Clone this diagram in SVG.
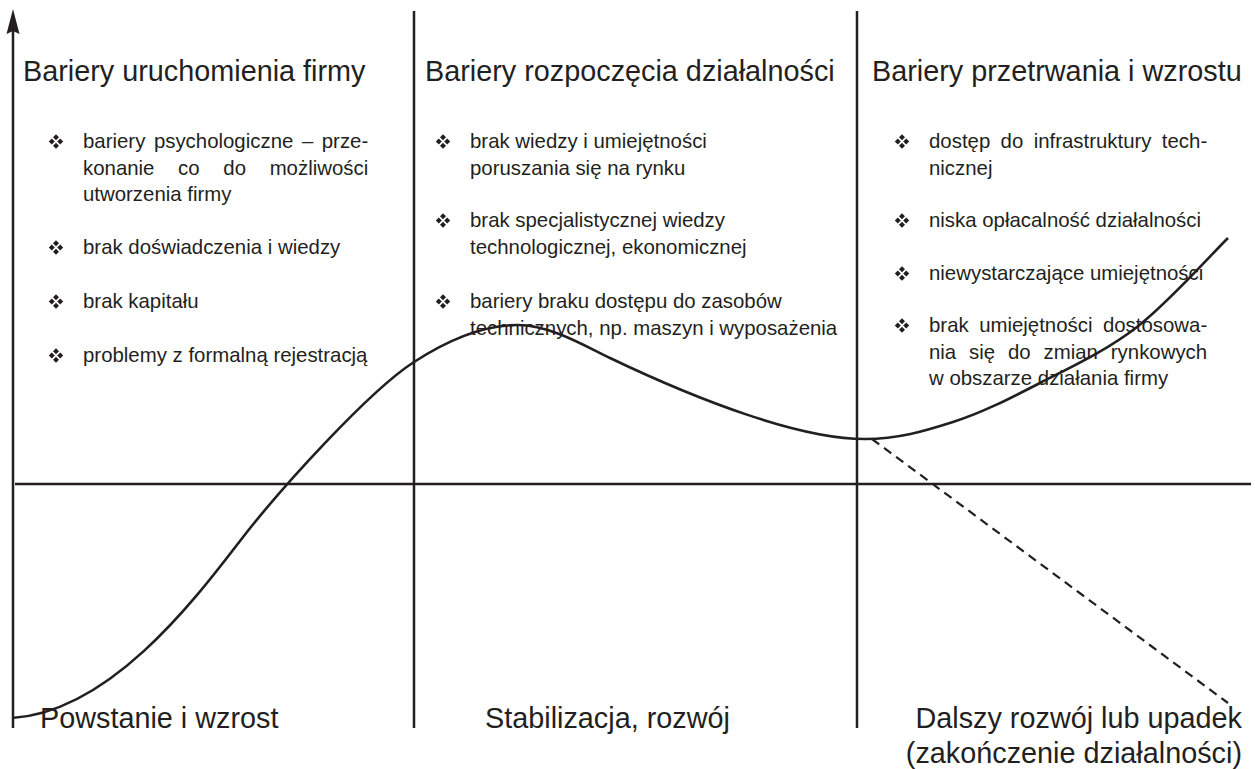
<svg xmlns="http://www.w3.org/2000/svg" width="1255" height="769" viewBox="0 0 1255 769">
<style>
.ln{stroke:#231f20;stroke-width:2.5;fill:none}
.cv{stroke:#231f20;stroke-width:2.6;fill:none}
.ds{stroke:#231f20;stroke-width:2.2;fill:none;stroke-dasharray:9 6}
.h{font-family:"Liberation Sans",Arial,sans-serif;font-size:28.8px;fill:#231f20}
.t{font-family:"Liberation Sans",Arial,sans-serif;font-size:20.4px;fill:#231f20}
</style>
<defs>
<path id="bul" fill="#231f20" d="M0,-7.2 L3,-4.2 L0,-1.2 L-3,-4.2Z M0,1.2 L3,4.2 L0,7.2 L-3,4.2Z M-7.2,0 L-4.2,-3 L-1.2,0 L-4.2,3Z M1.2,0 L4.2,-3 L7.2,0 L4.2,3Z"/>
</defs>
<rect width="1255" height="769" fill="#fff"/>
<g id="connectors">
<line class="ln" x1="13" y1="30" x2="13" y2="728"/>
<polygon points="13,9 19.5,34 13,31 6.5,34" fill="#231f20"/>
<line class="ln" x1="414" y1="11" x2="414" y2="728"/>
<line class="ln" x1="857" y1="11" x2="857" y2="728"/>
<line class="ln" x1="15" y1="484" x2="1251" y2="484"/>
<path class="cv" d="M12,718 C110,712 195,599.5 240,541 C280,489 369,391 414,362 C449,339.3 484,325 518,325 C550,325 585,346 610,358 C700,401 800,439 865,439 C898,439 923.8,431.3 953,422 C982.2,412.7 1009.3,398.8 1040,383 C1070.7,367.2 1105.7,351.2 1137,327 C1168.3,302.8 1212.8,252.8 1228,238"/>
<line class="ds" x1="872" y1="439" x2="1228" y2="703"/>
</g>
<g id="col1">
<text class="h" x="23" y="81">Bariery uruchomienia firmy</text>
<use href="#bul" x="56" y="141.5"/>
<text class="t" x="83" y="148" word-spacing="2.9">bariery psychologiczne – prze-</text>
<text class="t" x="83" y="174.5" word-spacing="18">konanie co do możliwości</text>
<text class="t" x="83" y="201">utworzenia firmy</text>
<use href="#bul" x="56" y="247.5"/>
<text class="t" x="83" y="254">brak doświadczenia i wiedzy</text>
<use href="#bul" x="56" y="301.5"/>
<text class="t" x="83" y="308">brak kapitału</text>
<use href="#bul" x="56" y="355.5"/>
<text class="t" x="83" y="362">problemy z formalną rejestracją</text>
</g>
<g id="col2">
<text class="h" x="425" y="81">Bariery rozpoczęcia działalności</text>
<use href="#bul" x="443" y="141.5"/>
<text class="t" x="470" y="148">brak wiedzy i umiejętności</text>
<text class="t" x="470" y="175">poruszania się na rynku</text>
<use href="#bul" x="443" y="220.5"/>
<text class="t" x="470" y="227">brak specjalistycznej wiedzy</text>
<text class="t" x="470" y="254">technologicznej, ekonomicznej</text>
<use href="#bul" x="443" y="301.5"/>
<text class="t" x="470" y="308">bariery braku dostępu do zasobów</text>
<text class="t" x="470" y="335">technicznych, np. maszyn i wyposażenia</text>
</g>
<g id="col3">
<text class="h" x="872" y="81">Bariery przetrwania i wzrostu</text>
<use href="#bul" x="902" y="141.5"/>
<text class="t" x="929" y="148" word-spacing="4.7">dostęp do infrastruktury tech-</text>
<text class="t" x="929" y="174.5">nicznej</text>
<use href="#bul" x="902" y="220.5"/>
<text class="t" x="929" y="227">niska opłacalność działalności</text>
<use href="#bul" x="902" y="273.5"/>
<text class="t" x="929" y="280">niewystarczające umiejętności</text>
<use href="#bul" x="902" y="325.5"/>
<text class="t" x="929" y="332" word-spacing="4.8">brak umiejętności dostosowa-</text>
<text class="t" x="929" y="358.5" word-spacing="7.2">nia się do zmian rynkowych</text>
<text class="t" x="929" y="385">w obszarze działania firmy</text>
</g>
<g id="phases">
<text class="h" x="40" y="728">Powstanie i wzrost</text>
<text class="h" x="485" y="728">Stabilizacja, rozwój</text>
<text class="h" x="1242" y="728" text-anchor="end">Dalszy rozwój lub upadek</text>
<text class="h" x="1242" y="763" text-anchor="end">(zakończenie działalności)</text>
</g>
</svg>
